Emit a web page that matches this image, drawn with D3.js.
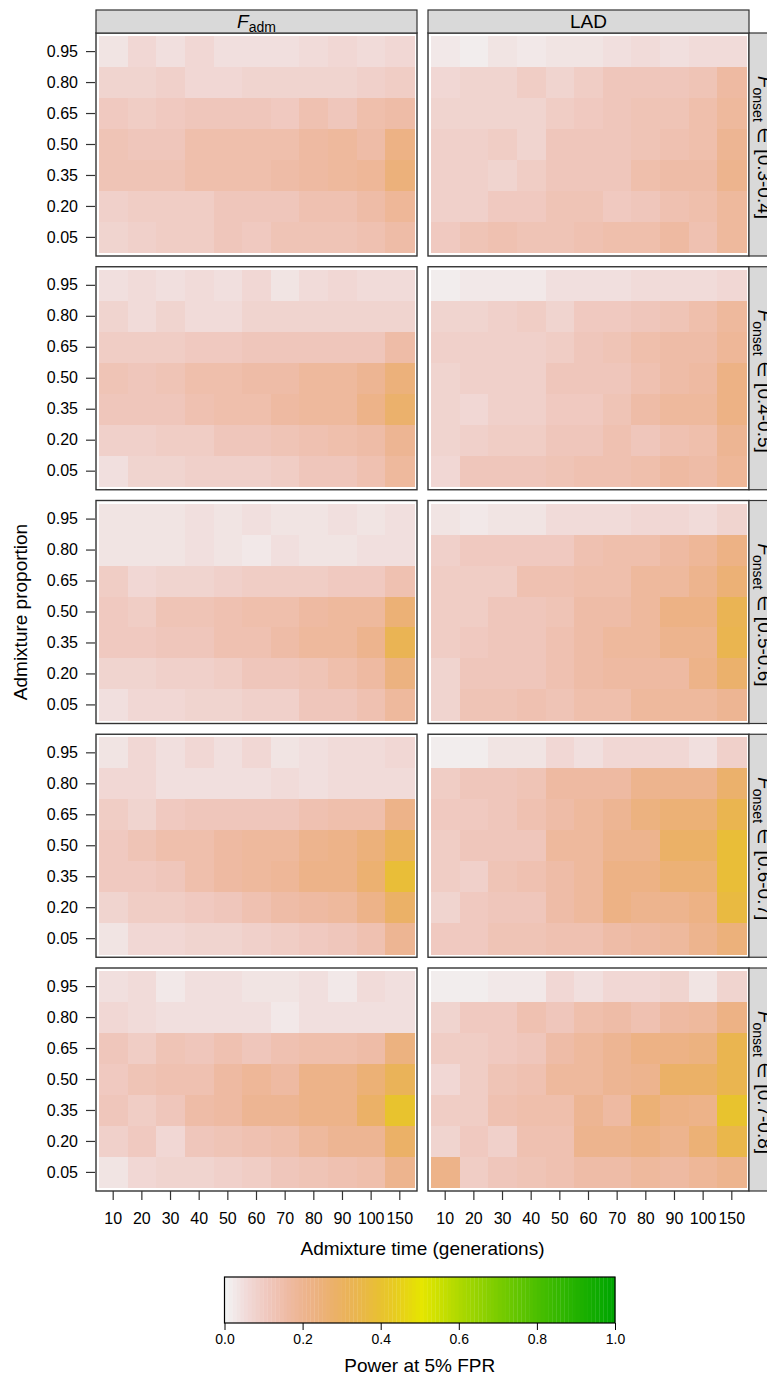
<!DOCTYPE html>
<html>
<head>
<meta charset="utf-8">
<script src="https://cdn.jsdelivr.net/npm/d3@7"></script>
<style>
  html, body { margin: 0; padding: 0; background: #fff; }
  svg { display: block; font-family: "Liberation Sans", Arial, Helvetica, sans-serif; }
</style>
</head>
<body>
<svg id="chart" width="767" height="1377"></svg>
<script>
// Categories (rows listed top to bottom as drawn)
const admixTimes = ["10", "20", "30", "40", "50", "60", "70", "80", "90", "100", "150"];
const admixProps = ["0.95", "0.80", "0.65", "0.50", "0.35", "0.20", "0.05"];
const onsetBins = ["[0.3-0.4]", "[0.4-0.5]", "[0.5-0.6]", "[0.6-0.7]", "[0.7-0.8]"];
const legendTicks = [0, 0.2, 0.4, 0.6, 0.8, 1.0];

// Power at 5% FPR, F_adm statistic, one array per onset bin (rows: 0.95 ... 0.05)
const fadmOnset34 = [
  [0.03, 0.06, 0.04, 0.06, 0.045, 0.045, 0.04, 0.05, 0.06, 0.05, 0.065],
  [0.07, 0.07, 0.08, 0.065, 0.065, 0.075, 0.07, 0.07, 0.07, 0.08, 0.09],
  [0.10, 0.09, 0.10, 0.11, 0.11, 0.11, 0.10, 0.13, 0.11, 0.14, 0.15],
  [0.12, 0.11, 0.11, 0.14, 0.14, 0.14, 0.14, 0.16, 0.17, 0.15, 0.22],
  [0.12, 0.12, 0.12, 0.14, 0.14, 0.14, 0.15, 0.16, 0.17, 0.18, 0.24],
  [0.08, 0.09, 0.09, 0.09, 0.11, 0.11, 0.11, 0.13, 0.13, 0.15, 0.18],
  [0.07, 0.08, 0.09, 0.09, 0.11, 0.10, 0.12, 0.12, 0.12, 0.13, 0.15]
];
const fadmOnset45 = [
  [0.04, 0.05, 0.04, 0.05, 0.04, 0.065, 0.035, 0.05, 0.065, 0.05, 0.05],
  [0.07, 0.05, 0.07, 0.05, 0.05, 0.07, 0.07, 0.07, 0.07, 0.07, 0.075],
  [0.095, 0.095, 0.095, 0.10, 0.10, 0.11, 0.11, 0.115, 0.115, 0.115, 0.15],
  [0.12, 0.11, 0.12, 0.14, 0.14, 0.15, 0.15, 0.17, 0.17, 0.19, 0.24],
  [0.11, 0.11, 0.11, 0.13, 0.14, 0.14, 0.16, 0.17, 0.17, 0.21, 0.27],
  [0.08, 0.08, 0.09, 0.09, 0.11, 0.11, 0.12, 0.13, 0.14, 0.15, 0.19],
  [0.045, 0.07, 0.07, 0.08, 0.085, 0.085, 0.09, 0.11, 0.11, 0.13, 0.17]
];
const fadmOnset56 = [
  [0.03, 0.03, 0.03, 0.04, 0.03, 0.04, 0.03, 0.03, 0.04, 0.03, 0.04],
  [0.035, 0.035, 0.035, 0.04, 0.035, 0.025, 0.045, 0.035, 0.035, 0.04, 0.045],
  [0.09, 0.065, 0.075, 0.075, 0.085, 0.095, 0.095, 0.095, 0.105, 0.105, 0.13],
  [0.10, 0.09, 0.12, 0.12, 0.13, 0.14, 0.14, 0.16, 0.17, 0.17, 0.25],
  [0.10, 0.10, 0.11, 0.115, 0.13, 0.13, 0.15, 0.17, 0.17, 0.20, 0.32],
  [0.07, 0.07, 0.08, 0.08, 0.09, 0.11, 0.11, 0.12, 0.14, 0.16, 0.23],
  [0.04, 0.06, 0.06, 0.07, 0.075, 0.085, 0.085, 0.11, 0.11, 0.13, 0.17]
];
const fadmOnset67 = [
  [0.035, 0.06, 0.04, 0.06, 0.045, 0.06, 0.035, 0.045, 0.055, 0.05, 0.06],
  [0.06, 0.06, 0.045, 0.045, 0.045, 0.045, 0.055, 0.045, 0.055, 0.05, 0.055],
  [0.09, 0.075, 0.10, 0.11, 0.11, 0.11, 0.11, 0.13, 0.14, 0.14, 0.21],
  [0.10, 0.12, 0.14, 0.14, 0.16, 0.17, 0.17, 0.20, 0.21, 0.24, 0.30],
  [0.10, 0.10, 0.11, 0.14, 0.16, 0.17, 0.18, 0.21, 0.21, 0.26, 0.38],
  [0.07, 0.09, 0.09, 0.10, 0.11, 0.13, 0.15, 0.16, 0.17, 0.21, 0.28],
  [0.03, 0.06, 0.06, 0.07, 0.07, 0.08, 0.09, 0.10, 0.11, 0.13, 0.19]
];
const fadmOnset78 = [
  [0.04, 0.05, 0.025, 0.04, 0.045, 0.035, 0.035, 0.04, 0.02, 0.05, 0.045],
  [0.06, 0.05, 0.045, 0.045, 0.045, 0.045, 0.02, 0.045, 0.045, 0.045, 0.045],
  [0.11, 0.095, 0.12, 0.11, 0.13, 0.11, 0.13, 0.14, 0.14, 0.15, 0.23],
  [0.10, 0.12, 0.13, 0.13, 0.16, 0.18, 0.16, 0.21, 0.21, 0.25, 0.31],
  [0.11, 0.09, 0.11, 0.15, 0.16, 0.19, 0.19, 0.21, 0.21, 0.28, 0.40],
  [0.08, 0.10, 0.065, 0.11, 0.12, 0.13, 0.14, 0.17, 0.19, 0.19, 0.28],
  [0.035, 0.06, 0.07, 0.07, 0.08, 0.09, 0.11, 0.12, 0.13, 0.14, 0.20]
];

// Power at 5% FPR, LAD statistic
const ladOnset34 = [
  [0.025, 0.01, 0.03, 0.02, 0.035, 0.035, 0.04, 0.05, 0.045, 0.05, 0.05],
  [0.06, 0.07, 0.07, 0.09, 0.07, 0.09, 0.11, 0.11, 0.11, 0.12, 0.16],
  [0.07, 0.07, 0.07, 0.07, 0.09, 0.10, 0.11, 0.12, 0.12, 0.14, 0.17],
  [0.08, 0.08, 0.09, 0.07, 0.11, 0.11, 0.11, 0.12, 0.13, 0.14, 0.19],
  [0.08, 0.08, 0.07, 0.09, 0.11, 0.11, 0.11, 0.14, 0.15, 0.15, 0.20],
  [0.08, 0.08, 0.10, 0.10, 0.12, 0.12, 0.10, 0.11, 0.13, 0.14, 0.17],
  [0.10, 0.12, 0.13, 0.12, 0.12, 0.13, 0.14, 0.14, 0.16, 0.13, 0.17]
];
const ladOnset45 = [
  [0.01, 0.02, 0.025, 0.025, 0.04, 0.04, 0.04, 0.05, 0.05, 0.05, 0.06],
  [0.07, 0.07, 0.08, 0.09, 0.075, 0.10, 0.10, 0.11, 0.12, 0.14, 0.17],
  [0.08, 0.08, 0.085, 0.085, 0.095, 0.11, 0.12, 0.14, 0.15, 0.15, 0.18],
  [0.07, 0.08, 0.08, 0.08, 0.11, 0.11, 0.11, 0.13, 0.15, 0.16, 0.22],
  [0.07, 0.065, 0.08, 0.08, 0.10, 0.10, 0.12, 0.15, 0.17, 0.17, 0.22],
  [0.07, 0.08, 0.09, 0.09, 0.11, 0.11, 0.13, 0.11, 0.13, 0.14, 0.19],
  [0.06, 0.11, 0.11, 0.11, 0.12, 0.13, 0.13, 0.14, 0.16, 0.15, 0.18]
];
const ladOnset56 = [
  [0.035, 0.02, 0.03, 0.03, 0.05, 0.05, 0.05, 0.065, 0.065, 0.05, 0.075],
  [0.08, 0.10, 0.10, 0.10, 0.10, 0.13, 0.14, 0.14, 0.16, 0.18, 0.22],
  [0.09, 0.09, 0.09, 0.13, 0.13, 0.14, 0.14, 0.17, 0.17, 0.20, 0.25],
  [0.09, 0.09, 0.11, 0.11, 0.12, 0.15, 0.15, 0.17, 0.22, 0.22, 0.32],
  [0.09, 0.10, 0.11, 0.11, 0.13, 0.15, 0.17, 0.17, 0.20, 0.20, 0.33],
  [0.07, 0.11, 0.11, 0.11, 0.13, 0.15, 0.16, 0.16, 0.16, 0.21, 0.27],
  [0.07, 0.12, 0.12, 0.13, 0.12, 0.14, 0.14, 0.17, 0.17, 0.17, 0.19]
];
const ladOnset67 = [
  [0.015, 0.015, 0.03, 0.03, 0.06, 0.045, 0.06, 0.065, 0.065, 0.04, 0.085],
  [0.09, 0.11, 0.11, 0.12, 0.16, 0.16, 0.16, 0.20, 0.20, 0.20, 0.27],
  [0.10, 0.10, 0.11, 0.13, 0.15, 0.17, 0.19, 0.23, 0.25, 0.25, 0.33],
  [0.09, 0.11, 0.11, 0.11, 0.17, 0.17, 0.20, 0.20, 0.28, 0.28, 0.38],
  [0.09, 0.08, 0.12, 0.13, 0.15, 0.17, 0.22, 0.22, 0.25, 0.25, 0.38],
  [0.07, 0.10, 0.11, 0.11, 0.15, 0.17, 0.22, 0.20, 0.20, 0.22, 0.36],
  [0.10, 0.10, 0.12, 0.12, 0.13, 0.13, 0.15, 0.16, 0.17, 0.20, 0.24]
];
const ladOnset78 = [
  [0.015, 0.015, 0.025, 0.025, 0.06, 0.04, 0.065, 0.065, 0.07, 0.03, 0.07],
  [0.07, 0.10, 0.10, 0.13, 0.11, 0.14, 0.15, 0.13, 0.16, 0.17, 0.22],
  [0.09, 0.09, 0.10, 0.11, 0.15, 0.17, 0.19, 0.22, 0.22, 0.23, 0.33],
  [0.06, 0.09, 0.12, 0.13, 0.17, 0.17, 0.19, 0.20, 0.28, 0.28, 0.33],
  [0.09, 0.09, 0.13, 0.14, 0.14, 0.19, 0.16, 0.25, 0.22, 0.21, 0.40],
  [0.07, 0.10, 0.08, 0.13, 0.13, 0.20, 0.20, 0.22, 0.20, 0.25, 0.34],
  [0.21, 0.09, 0.11, 0.12, 0.13, 0.15, 0.15, 0.17, 0.16, 0.18, 0.20]
];

const fadmPanels = [fadmOnset34, fadmOnset45, fadmOnset56, fadmOnset67, fadmOnset78];
const ladPanels = [ladOnset34, ladOnset45, ladOnset56, ladOnset67, ladOnset78];

// Reversed terrain palette, 100 levels (white -> salmon -> yellow -> green)
function hsv2rgb(h, s, v) {
  const i = Math.floor(h * 6) % 6, f = h * 6 - Math.floor(h * 6);
  const p = v * (1 - s), q = v * (1 - f * s), t = v * (1 - (1 - f) * s);
  const [r, g, b] = [[v, t, p], [q, v, p], [p, v, t], [p, q, v], [t, p, v], [v, p, q]][i];
  return d3.rgb(r * 255, g * 255, b * 255).formatHex();
}
const nLevels = 100;
const terrain = d3.range(nLevels).map(i => {
  const k = nLevels / 2;
  if (i < k) {
    const f = i / (k - 1);
    return hsv2rgb(4 / 12 - f * 2 / 12, 1, 0.65 + f * 0.25);
  }
  const f = (i - (k - 1)) / (nLevels - k + 1 - 1);
  return hsv2rgb(2 / 12 * (1 - f), 1 - f, 0.9 + 0.05 * f);
});
const palette = terrain.slice().reverse();
const color = d3.scaleQuantize().domain([0, 1]).range(palette);

const svg = d3.select("#chart");

// Layout
const colX = [96, 428];
const panelW = 321, panelH = 223;
const rowTop = d3.range(5).map(i => 33 + i * 233.75);
const stripH = 23;
const ink = "#333";

const methods = [
  { key: "fadm", panels: fadmPanels },
  { key: "lad", panels: ladPanels }
];

methods.forEach((m, ci) => {
  const x = d3.scaleBand().domain(admixTimes)
    .range([colX[ci], colX[ci] + panelW]).paddingInner(0).paddingOuter(0.1);

  m.panels.forEach((grid, ri) => {
    const y = d3.scaleBand().domain(admixProps)
      .range([rowTop[ri], rowTop[ri] + panelH]).paddingInner(0).paddingOuter(0.1);

    const cells = [];
    grid.forEach((row, r) => row.forEach((v, c) => cells.push({ t: admixTimes[c], p: admixProps[r], v })));

    const g = svg.append("g");
    g.selectAll("rect.cell").data(cells).join("rect")
      .attr("class", "cell")
      .attr("x", d => x(d.t))
      .attr("y", d => y(d.p))
      .attr("width", x.bandwidth() + 0.4)
      .attr("height", y.bandwidth() + 0.4)
      .attr("fill", d => color(d.v))
      .attr("shape-rendering", "crispEdges");

    g.append("rect")
      .attr("x", colX[ci]).attr("y", rowTop[ri])
      .attr("width", panelW).attr("height", panelH)
      .attr("fill", "none").attr("stroke", ink).attr("stroke-width", 1.4);

    // y axis on the left column
    if (ci === 0) {
      const ya = svg.append("g").attr("transform", `translate(${colX[0] - 1},0)`)
        .call(d3.axisLeft(y).tickSize(9).tickPadding(8));
      ya.select(".domain").remove();
      ya.selectAll("line").attr("stroke", ink).attr("stroke-width", 1.2);
      ya.selectAll("text").attr("font-size", 16).attr("fill", "#000")
        .attr("font-family", "Liberation Sans, Arial, sans-serif");
    }
    // x axis under the bottom row
    if (ri === 4) {
      const xa = svg.append("g").attr("transform", `translate(0,${rowTop[4] + panelH})`)
        .call(d3.axisBottom(x).tickSize(9).tickPadding(13));
      xa.select(".domain").remove();
      xa.selectAll("line").attr("stroke", ink).attr("stroke-width", 1.2);
      xa.selectAll("text").attr("font-size", 16).attr("fill", "#000")
        .attr("font-family", "Liberation Sans, Arial, sans-serif");
    }
    // condition strips on the right (they run past the page edge)
    if (ci === 1) {
      const sx = colX[1] + panelW;
      svg.append("rect").attr("x", sx).attr("y", rowTop[ri])
        .attr("width", stripH + 10).attr("height", panelH)
        .attr("fill", "#d9d9d9").attr("stroke", ink).attr("stroke-width", 1.2);
      const t = svg.append("g")
        .attr("transform", `translate(${sx + 9},${rowTop[ri] + panelH / 2 + 3}) rotate(90)`)
        .append("text").attr("text-anchor", "middle").attr("font-size", 19).attr("fill", "#000");
      t.append("tspan").attr("font-style", "italic").text("F");
      t.append("tspan").attr("font-size", 14).attr("dy", 5).text("onset");
      t.append("tspan").attr("dy", -5).text(" \u2208 " + onsetBins[ri]);
    }
  });

  // method strips on top
  svg.append("rect").attr("x", colX[ci]).attr("y", rowTop[0] - stripH)
    .attr("width", panelW).attr("height", stripH)
    .attr("fill", "#d9d9d9").attr("stroke", ink).attr("stroke-width", 1.2);
  const st = svg.append("text").attr("x", colX[ci] + panelW / 2).attr("y", rowTop[0] - 5)
    .attr("text-anchor", "middle").attr("font-size", 19).attr("fill", "#000");
  if (m.key === "fadm") {
    st.append("tspan").attr("font-style", "italic").text("F");
    st.append("tspan").attr("font-size", 14).attr("dy", 4).text("adm");
  } else {
    st.text("LAD");
  }
});

// Axis titles
svg.append("text")
  .attr("transform", `translate(27,${(rowTop[0] + rowTop[4] + panelH) / 2}) rotate(-90)`)
  .attr("text-anchor", "middle").attr("font-size", 19).attr("fill", "#000")
  .text("Admixture proportion");
svg.append("text")
  .attr("x", (colX[0] + colX[1] + panelW) / 2).attr("y", 1255)
  .attr("text-anchor", "middle").attr("font-size", 19).attr("fill", "#000")
  .text("Admixture time (generations)");

// Colour key
const legX = d3.scaleLinear().domain([0, 1]).range([224.5, 615]);
const legTop = 1277, legBot = 1323;
const legBins = d3.range(nLevels).map(i => ({ a: i / nLevels, b: (i + 1) / nLevels }));
svg.append("g").selectAll("rect").data(legBins).join("rect")
  .attr("x", d => legX(d.a)).attr("y", legTop)
  .attr("width", d => legX(d.b) - legX(d.a) + 0.3).attr("height", legBot - legTop)
  .attr("fill", d => color((d.a + d.b) / 2));
svg.append("rect").attr("x", legX(0)).attr("y", legTop)
  .attr("width", legX(1) - legX(0)).attr("height", legBot - legTop)
  .attr("fill", "none").attr("stroke", "#000").attr("stroke-width", 1.2);
const la = svg.append("g").attr("transform", `translate(0,${legBot})`)
  .call(d3.axisBottom(legX).tickValues(legendTicks).tickFormat(d3.format(".1f")).tickSize(7).tickPadding(4));
la.select(".domain").remove();
la.selectAll("line").attr("stroke", "#000");
la.selectAll("text").attr("font-size", 14).attr("fill", "#000")
  .attr("font-family", "Liberation Sans, Arial, sans-serif");
svg.append("text").attr("x", legX(0.5)).attr("y", 1372)
  .attr("text-anchor", "middle").attr("font-size", 19).attr("fill", "#000")
  .text("Power at 5% FPR");
</script>
</body>
</html>
